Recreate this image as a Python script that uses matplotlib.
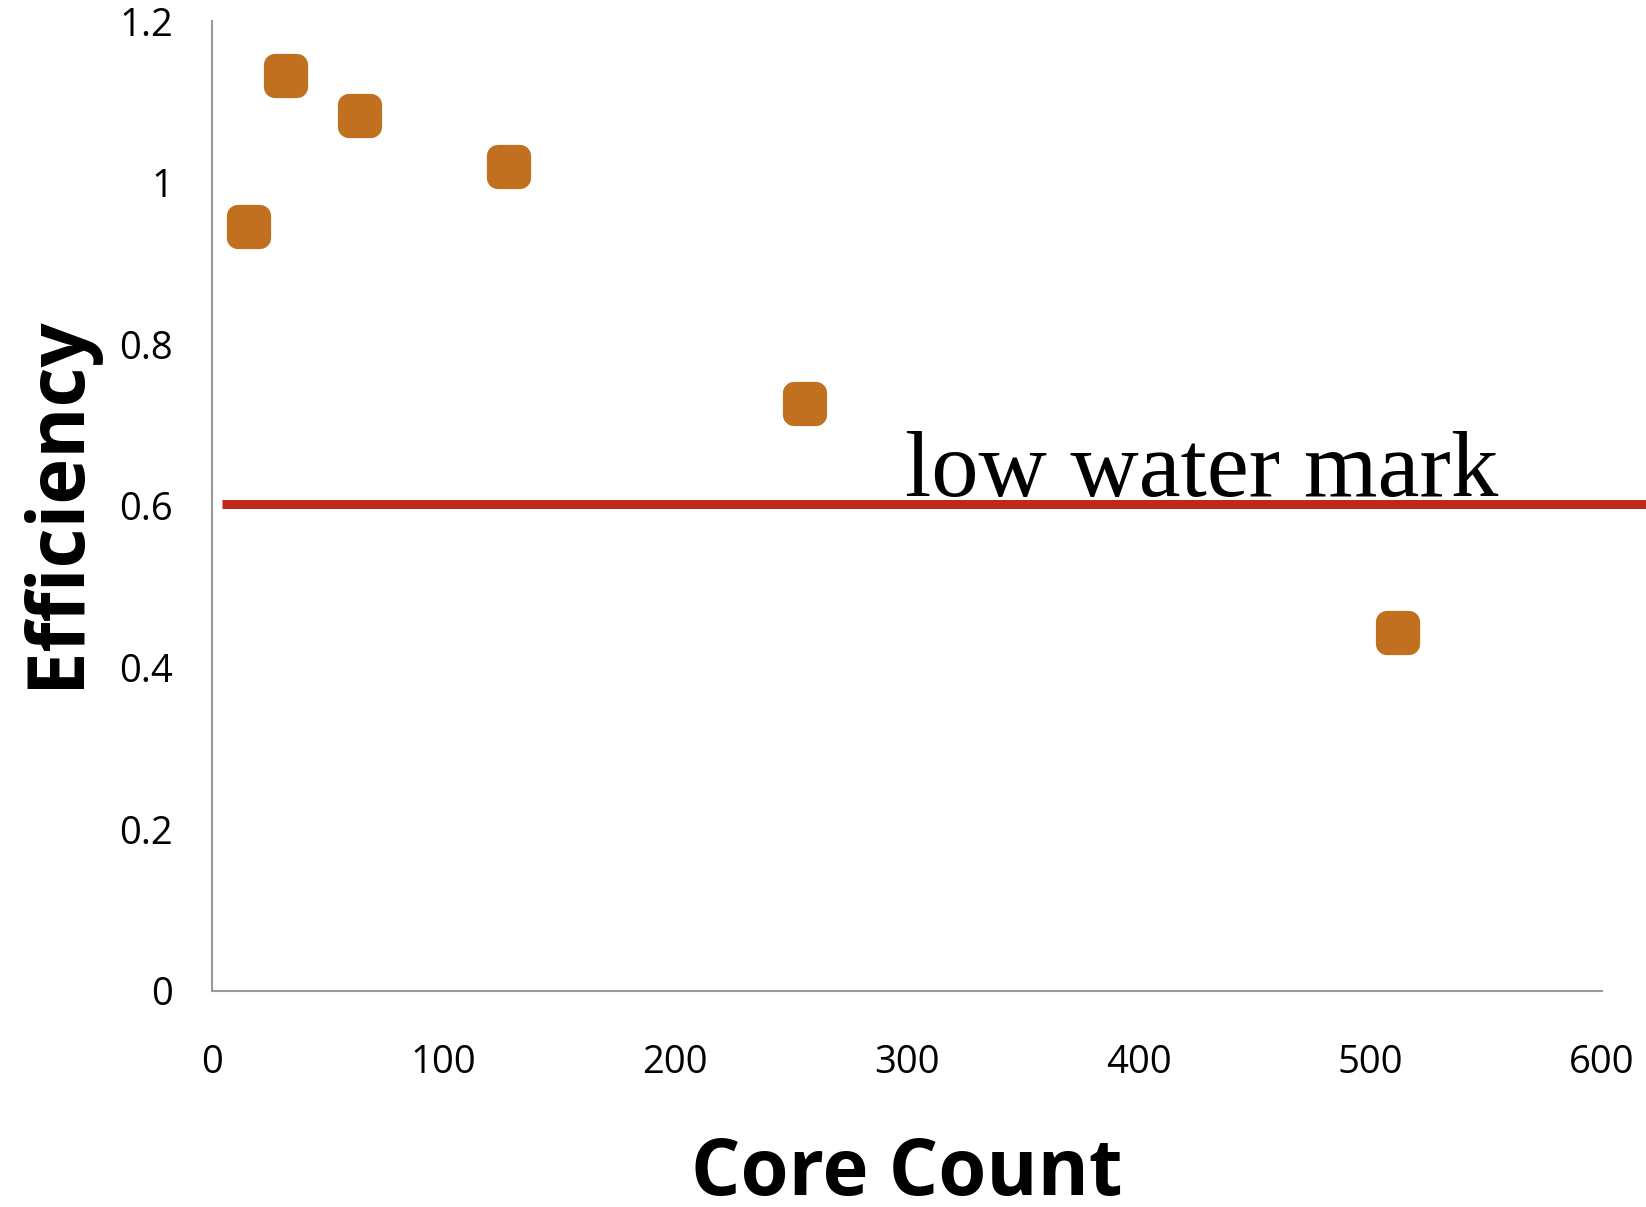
import matplotlib
matplotlib.use("Agg")
import matplotlib.pyplot as plt
from matplotlib.markers import MarkerStyle

# efficiency vs number of cores
cores = [16, 32, 64, 128, 256, 512]
efficiency = [0.945, 1.132, 1.082, 1.019, 0.726, 0.443]

low_water = 0.603
x_ticks = [0, 100, 200, 300, 400, 500, 600]
y_ticks = [0, 0.2, 0.4, 0.6, 0.8, 1, 1.2]
y_tick_labels = ['0', '0.2', '0.4', '0.6', '0.8', '1', '1.2']

plt.rcParams['font.family'] = ['Open Sans', 'DejaVu Sans']

fig = plt.figure(figsize=(16.46, 12.07), dpi=100)
ax = fig.add_axes([0.1288, 0.1790, 0.8445, 0.8036])

# rounded squares: thick edge with round joins
mk = MarkerStyle('s', joinstyle='round')
ax.plot(cores, efficiency, linestyle='none', marker=mk, markersize=16,
        markerfacecolor='#C0701E', markeredgecolor='#C0701E',
        markeredgewidth=16, zorder=3)

# low water mark line runs past the right end of the axis
ax.plot([4.5, 620], [low_water, low_water], color='#C0281C', linewidth=6.5,
        solid_capstyle='butt', clip_on=False, zorder=2)
ax.text(299, 0.612, 'low water mark', family='Liberation Serif', fontsize=68,
        ha='left', va='baseline', zorder=4)

ax.set_xlim(0, 600)
ax.set_ylim(0, 1.2)
ax.set_xticks(x_ticks)
ax.set_yticks(y_ticks)
ax.set_yticklabels(y_tick_labels)
ax.tick_params(axis='both', length=0, labelsize=27.5)
ax.tick_params(axis='x', pad=38)
ax.tick_params(axis='y', pad=28)

for side in ['top', 'right']:
    ax.spines[side].set_visible(False)
for side in ['left', 'bottom']:
    ax.spines[side].set_color('#999999')
    ax.spines[side].set_linewidth(1.5)

fig.text(907 / 1646, 1 - 1175 / 1207, 'Core Count', fontsize=56,
         fontweight='bold', ha='center', va='center')
fig.text(57 / 1646, 1 - 502 / 1207, 'Efficiency', fontsize=56,
         fontweight='bold', ha='center', va='center', rotation=90)

fig.savefig('out.png', dpi=100)
